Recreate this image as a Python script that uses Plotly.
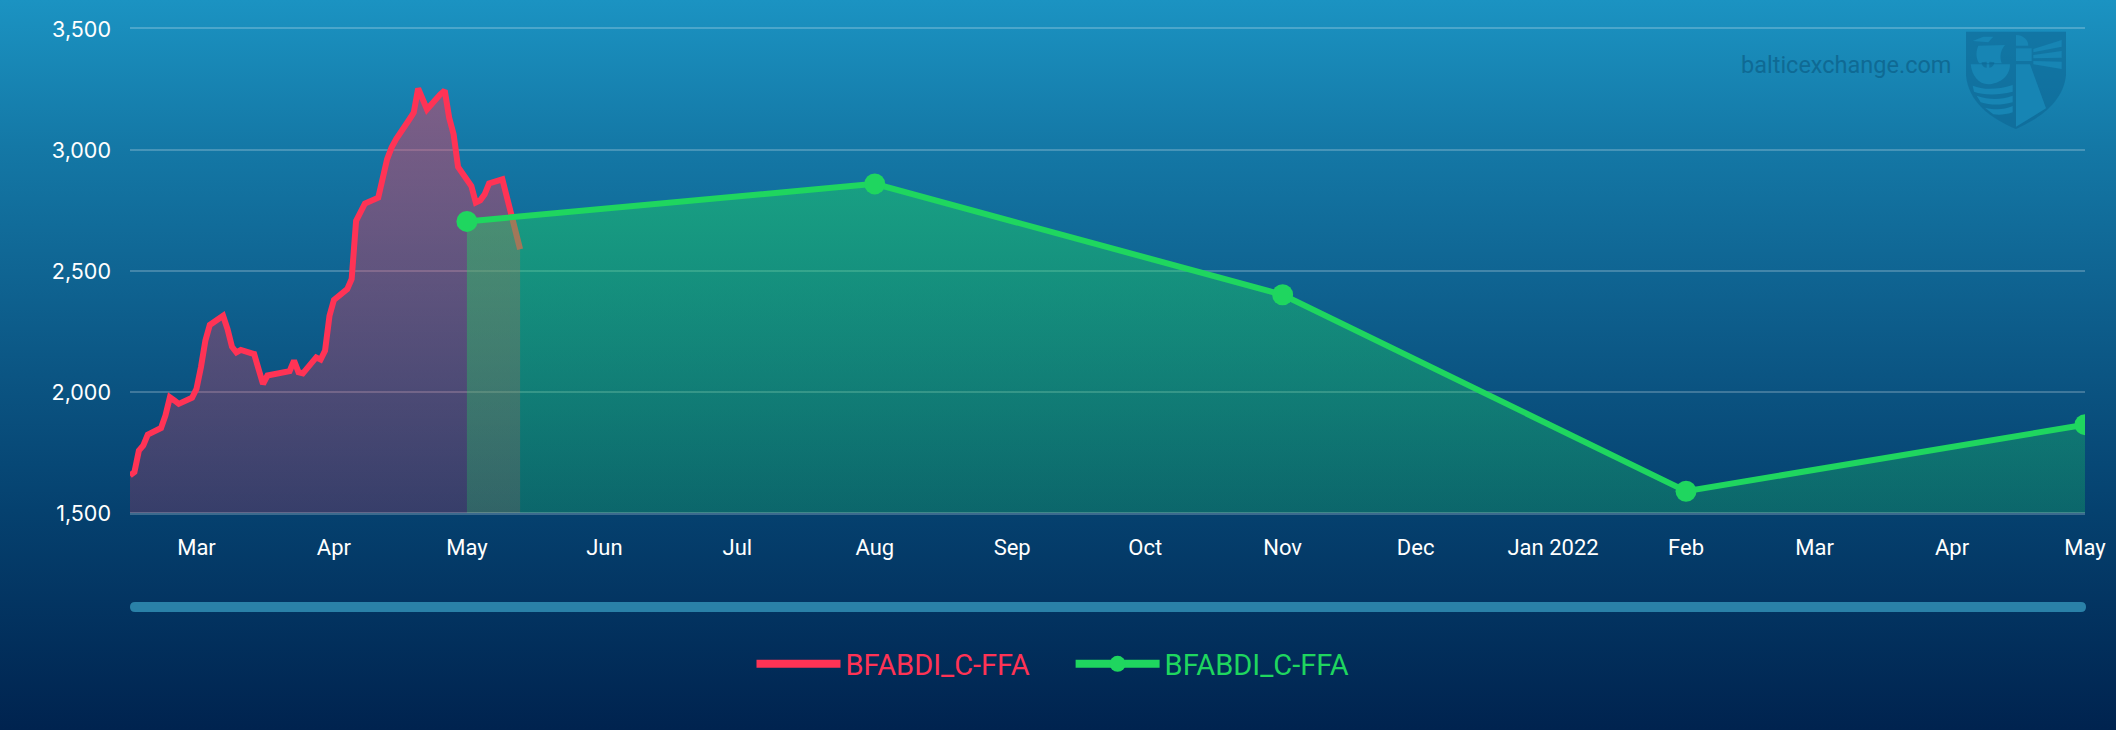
import plotly.graph_objects as go

WIDTH = 2116
HEIGHT = 730

# Spot index
spot_dates = [
    "2021-02-14", "2021-02-15", "2021-02-16", "2021-02-17", "2021-02-18",
    "2021-02-21", "2021-02-22", "2021-02-23", "2021-02-24", "2021-02-25",
    "2021-02-28", "2021-03-01", "2021-03-02", "2021-03-03", "2021-03-04",
    "2021-03-07", "2021-03-08", "2021-03-09", "2021-03-10", "2021-03-11",
    "2021-03-14", "2021-03-15", "2021-03-16", "2021-03-17", "2021-03-18",
    "2021-03-21", "2021-03-22", "2021-03-23", "2021-03-24", "2021-03-25",
    "2021-03-28", "2021-03-29", "2021-03-30", "2021-03-31", "2021-04-01",
    "2021-04-04", "2021-04-05", "2021-04-06", "2021-04-07", "2021-04-08",
    "2021-04-11", "2021-04-12", "2021-04-13", "2021-04-14", "2021-04-15",
    "2021-04-18", "2021-04-19", "2021-04-20", "2021-04-21", "2021-04-22",
    "2021-04-25", "2021-04-26", "2021-04-27", "2021-04-28", "2021-04-29",
    "2021-05-02", "2021-05-03", "2021-05-04", "2021-05-05", "2021-05-06",
    "2021-05-09", "2021-05-10", "2021-05-11", "2021-05-12", "2021-05-13",
]
spot_values = [
    1655, 1669, 1758, 1779, 1824,
    1851, 1903, 1978, 1965, 1951,
    1976, 2013, 2102, 2212, 2277,
    2315, 2260, 2187, 2164, 2174,
    2157, 2095, 2033, 2068, 2072,
    2084, 2086, 2130, 2082, 2077,
    2143, 2134, 2171, 2315, 2380,
    2425, 2467, 2707, 2742, 2779,
    2803, 2893, 2962, 3010, 3044,
    3126, 3154, 3254, 3209, 3168,
    3230, 3246, 3133, 3065, 2930,
    2851, 2783, 2792, 2817, 2862,
    2879, 2803, 2748, 2666, 2590,
]

# Forward curve, the green line
ffa_dates = ["2021-05-01", "2021-08-01", "2021-11-01", "2022-01-31", "2022-05-01"]
ffa_values = [2705, 2860, 2402, 1590, 1865]

x_tick_dates = [
    "2021-03-01", "2021-04-01", "2021-05-01", "2021-06-01", "2021-07-01",
    "2021-08-01", "2021-09-01", "2021-10-01", "2021-11-01", "2021-12-01",
    "2022-01-01", "2022-01-31", "2022-03-01", "2022-04-01", "2022-05-01",
]
x_tick_labels = [
    "Mar", "Apr", "May", "Jun", "Jul", "Aug", "Sep", "Oct", "Nov", "Dec",
    "Jan 2022", "Feb", "Mar", "Apr", "May",
]
y_ticks = [1500, 2000, 2500, 3000, 3500]
y_tick_labels = ["1,500", "2,000", "2,500", "3,000", "3,500"]

RED = "#ff3355"
GREEN = "#1fd65f"
LOGO_DARK = "rgba(12,100,145,0.55)"
LOGO_LIGHT = "#1785b4"
GRID = "rgba(255,255,255,0.22)"


def logo_shape(path, color):
    """Watermark piece, path is in pixels of the page."""
    return dict(type="path", path=path, xref="x", yref="y", layer="above",
                fillcolor=color, line=dict(width=0))


def logo_path(points):
    """Turn crop coordinates of the shield (3x, from 1960,25) into page pixels."""
    out = []
    for p in points.split():
        if "," in p:
            a, b = p.split(",")
            out.append(f"{1960 + float(a) / 3:.1f},{25 + float(b) / 3:.1f}")
        else:
            out.append(p)
    return " ".join(out)


logo_light_parts = [
    "M 32,118 L 150,118 C 150,160 110,178 85,178 C 55,178 35,150 32,118 Z",
    "M 55,62 C 45,85 50,105 58,115 L 125,115 C 118,95 122,75 135,60 Z",
    "M 38,48 L 70,35 L 100,35 L 85,52 Z",
    "M 38,182 C 70,195 110,195 158,180 L 158,200 C 110,212 70,210 42,200 Z",
    "M 50,212 C 90,225 120,225 158,212 L 158,232 C 120,242 90,240 62,232 Z",
    "M 75,248 C 105,255 130,255 158,243 L 158,262 C 135,270 115,270 100,268 Z",
    "M 168,30 C 190,30 205,45 205,62 L 168,62 Z",
    "M 168,70 L 215,70 L 215,108 L 168,108 Z",
    "M 168,118 L 210,118 L 258,250 L 168,305 Z",
    "M 220,72 L 305,45 L 305,65 L 220,82 Z",
    "M 220,90 L 305,78 L 305,98 L 220,100 Z",
    "M 220,108 L 305,110 L 305,132 L 220,118 Z",
]
logo_dark_parts = [
    "M 65,112 L 80,110 L 80,128 C 70,128 65,120 65,112 Z",
    "M 88,110 L 103,112 C 103,120 95,128 88,128 Z",
]
logo_shield = "M 18,20 L 318,20 L 318,150 C 310,230 240,280 168,312 C 90,280 25,230 18,150 Z"

fig = go.Figure()

# Page background gradient, drawn on its own pixel axes under the chart
fig.add_trace(go.Scatter(
    x=[0, WIDTH, WIDTH, 0, 0], y=[0, 0, HEIGHT, HEIGHT, 0],
    xaxis="x", yaxis="y",
    mode="lines", line=dict(width=0),
    fill="toself",
    fillgradient=dict(
        type="vertical", start=0, stop=HEIGHT,
        colorscale=[[0, "#1b93c2"], [0.2, "#1478a6"], [0.45, "#0d5c8a"],
                    [0.7, "#05416f"], [1, "#00234f"]],
    ),
    hoverinfo="skip", showlegend=False,
))

# Areas and lines are separate traces so the legend only shows the lines
fig.add_trace(go.Scatter(
    x=spot_dates, y=spot_values,
    xaxis="x2", yaxis="y2",
    mode="lines", line=dict(width=0),
    fill="tozeroy",
    fillgradient=dict(
        type="vertical", start=3300, stop=1500,
        colorscale=[[0, "rgba(255,51,85,0.45)"], [1, "rgba(255,51,85,0.2)"]],
    ),
    hoverinfo="skip", showlegend=False,
))
fig.add_trace(go.Scatter(
    x=spot_dates, y=spot_values,
    xaxis="x2", yaxis="y2",
    mode="lines",
    line=dict(color=RED, width=6),
    showlegend=False,
))
fig.add_trace(go.Scatter(
    x=ffa_dates, y=ffa_values,
    xaxis="x2", yaxis="y2",
    mode="lines", line=dict(width=0),
    fill="tozeroy",
    fillgradient=dict(
        type="vertical", start=2860, stop=1500,
        colorscale=[[0, "rgba(31,214,95,0.45)"], [1, "rgba(31,214,95,0.25)"]],
    ),
    hoverinfo="skip", showlegend=False,
))
fig.add_trace(go.Scatter(
    x=ffa_dates, y=ffa_values,
    xaxis="x2", yaxis="y2",
    mode="lines+markers",
    line=dict(color=GREEN, width=6),
    marker=dict(color=GREEN, size=21),
    showlegend=False,
))

# Legend-only entries, the legend keys are drawn heavier than the lines
fig.add_trace(go.Scatter(
    x=[None], y=[None], xaxis="x2", yaxis="y2",
    name=f'<span style="color:{RED}">BFABDI_C-FFA</span>\u00a0\u00a0\u00a0\u00a0\u00a0',
    mode="lines", line=dict(color=RED, width=8),
))
fig.add_trace(go.Scatter(
    x=[None], y=[None], xaxis="x2", yaxis="y2",
    name=f'<span style="color:{GREEN}">BFABDI_C-FFA</span>',
    mode="lines+markers", line=dict(color=GREEN, width=8),
    marker=dict(color=GREEN, size=19),
))

shapes = [logo_shape(logo_path(logo_shield), LOGO_DARK)]
shapes += [logo_shape(logo_path(p), LOGO_LIGHT) for p in logo_light_parts]
shapes += [logo_shape(logo_path(p), LOGO_DARK) for p in logo_dark_parts]
# Navigator bar under the x axis
shapes.append(dict(
    type="path", xref="x", yref="y", layer="above",
    path="M 135,602 L 2081,602 Q 2086,602 2086,607 Q 2086,612 2081,612 "
         "L 135,612 Q 130,612 130,607 Q 130,602 135,602 Z",
    fillcolor="#2a81a8", line=dict(width=0),
))
# Baseline is a bit brighter than the grid
shapes.append(dict(
    type="line", xref="x2 domain", yref="y2", x0=0, x1=1, y0=1500, y1=1500,
    layer="above", line=dict(color="rgba(255,255,255,0.22)", width=2),
))

fig.update_layout(
    width=WIDTH, height=HEIGHT,
    margin=dict(l=0, r=0, t=0, b=0),
    paper_bgcolor="#00234f",
    plot_bgcolor="rgba(0,0,0,0)",
    shapes=shapes,
    xaxis=dict(domain=[0, 1], range=[0, WIDTH], visible=False, fixedrange=True),
    yaxis=dict(domain=[0, 1], range=[HEIGHT, 0], visible=False, fixedrange=True),
    xaxis2=dict(
        domain=[130 / WIDTH, 2085 / WIDTH],
        anchor="y2", type="date", automargin=False,
        range=["2021-02-14", "2022-05-01"],
        tickmode="array", tickvals=x_tick_dates, ticktext=x_tick_labels,
        tickfont=dict(family="Roboto", size=22, color="white"),
        showgrid=False, zeroline=False, ticks="",
        ticklabelstandoff=14,
        showline=True, mirror=True, linecolor=GRID, linewidth=2,
    ),
    yaxis2=dict(
        domain=[1 - 513 / HEIGHT, 1 - 29 / HEIGHT],
        anchor="x2", range=[1500, 3500], automargin=False,
        tickmode="array", tickvals=y_ticks, ticktext=y_tick_labels,
        tickfont=dict(family="Inter", size=21.5, color="white"),
        gridcolor=GRID, gridwidth=2,
        zeroline=False, showline=False, ticks="",
        ticklabelstandoff=18,
    ),
    legend=dict(
        orientation="h", x=0.5 - 5 / WIDTH, xanchor="center", y=1 - 664 / HEIGHT, yanchor="middle",
        font=dict(family="Roboto", size=29),
        itemwidth=84, itemsizing="trace", bgcolor="rgba(0,0,0,0)",
        traceorder="normal",
    ),
    annotations=[dict(
        text="balticexchange.com", xref="x", yref="y", x=1739, y=65,
        xanchor="left", yanchor="middle", showarrow=False,
        font=dict(family="Roboto", size=23.5, color="#0f6a94"),
    )],
)

fig.write_html("out.html", config={"displayModeBar": False},
               post_script="document.body.style.margin='0';")
